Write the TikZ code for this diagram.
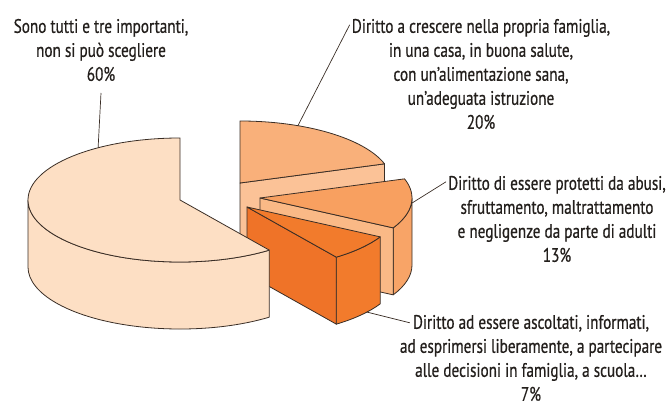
\documentclass[tikz,border=0pt]{standalone}
\usepackage{fontspec}
\setmainfont{PT Sans}[FakeStretch=0.78, FakeBold=0.6]
\usetikzlibrary{calc}
\definecolor{ink}{HTML}{231F1C}
\definecolor{edge}{HTML}{3A2E26}
\definecolor{top60}{HTML}{FDDFC4}
\definecolor{top20}{HTML}{F9B07A}
\definecolor{cut20}{HTML}{FBC297}
\definecolor{top13}{HTML}{F8A060}
\definecolor{cut13}{HTML}{FAB986}
\definecolor{rim13}{HTML}{F8A467}
\definecolor{top7}{HTML}{F27B2C}
\definecolor{cut7}{HTML}{EF7328}
\begin{document}
\begin{tikzpicture}[x=1pt, y=1pt, line join=round,
    face/.style={draw=edge, line width=0.8pt},
    rad/.style={x radius=152, y radius=62},
    lbl/.style={align=center, font=\fontsize{19.5}{24}\selectfont, text=ink, inner sep=2pt},
    lead/.style={draw=edge, line width=0.7pt}]
  \useasboundingbox (0,0) rectangle (672,405);
  \coordinate (c60) at (180,205);
  \coordinate (c20) at (240,222);
  \coordinate (c13) at (260,207);
  \coordinate (c7) at (247,198);

  % 20%
  \filldraw[face, fill=cut20] (c20) -- ++(18:152 and 62) -- ++(0,-67) -- ($(c20)+(0,-67)$) -- cycle;
  \filldraw[face, fill=top20] (c20) -- ++(18:152 and 62) arc[rad, start angle=18, end angle=90] -- cycle;

  % 13%
  \filldraw[face, fill=rim13] ($(c13)+(-28.8:152 and 62)$) arc[rad, start angle=-28.8, end angle=0]
    -- ++(0,-67) arc[rad, start angle=0, end angle=-28.8] -- cycle;
  \filldraw[face, fill=cut13] (c13) -- ++(-28.8:152 and 62) -- ++(0,-67) -- ($(c13)+(0,-67)$) -- cycle;
  \filldraw[face, fill=top13] (c13) -- ++(-28.8:152 and 62) arc[rad, start angle=-28.8, end angle=18] -- cycle;

  % 7%
  \filldraw[face, fill=top7] ($(c7)+(-54:152 and 62)$) arc[rad, start angle=-54, end angle=-28.8]
    -- ++(0,-67) arc[rad, start angle=-28.8, end angle=-54] -- cycle;
  \filldraw[face, fill=cut7] (c7) -- ++(-54:152 and 62) -- ++(0,-67) -- ($(c7)+(0,-67)$) -- cycle;
  \filldraw[face, fill=top7] (c7) -- ++(-54:152 and 62) arc[rad, start angle=-54, end angle=-28.8] -- cycle;

  % 60%
  \filldraw[face, fill=top60] ($(c60)+(180:152 and 62)$) arc[rad, start angle=180, end angle=306]
    -- ++(0,-67) arc[rad, start angle=306, end angle=180] -- cycle;
  \filldraw[face, fill=top60] (c60) -- ++(90:152 and 62) arc[rad, start angle=90, end angle=306] -- cycle;

  % rim points for the leaders
  \coordinate (rim60) at ($(c60)+(122.6:152 and 62)$);
  \coordinate (rim20) at ($(c20)+(67.6:152 and 62)$);
  \coordinate (rim13) at ($(c13)+(-5:152 and 62)$);
  \coordinate (rim7) at ($(c7)+(-37.9:152 and 62)+(0,-67)$);

  \node[lbl] (lab60) at (101,355) {Sono tutti e tre importanti,\\non si può scegliere\\60\%};
  \node[lbl] (lab20) at (481,331) {Diritto a crescere nella propria famiglia,\\in una casa, in buona salute,\\con un’alimentazione sana,\\un’adeguata istruzione\\20\%};
  \node[lbl] (lab13) at (557,186) {Diritto di essere protetti da abusi,\\sfruttamento, maltrattamento\\e negligenze da parte di adulti\\13\%};
  \node[lbl] (lab7) at (531,47) {Diritto ad essere ascoltati, informati,\\ad esprimersi liberamente, a partecipare\\alle decisioni in famiglia, a scuola\dots\\7\%};

  \draw[lead] (rim60) -- (lab60.south |- 0,312);
  \draw[lead] (rim20) -- ([yshift=-8pt]lab20.north west);
  \draw[lead] (rim13) -- ([yshift=-8pt]lab13.north west);
  \draw[lead] (rim7) -- ([xshift=12pt,yshift=-10pt]lab7.north west);
\end{tikzpicture}
\end{document}
